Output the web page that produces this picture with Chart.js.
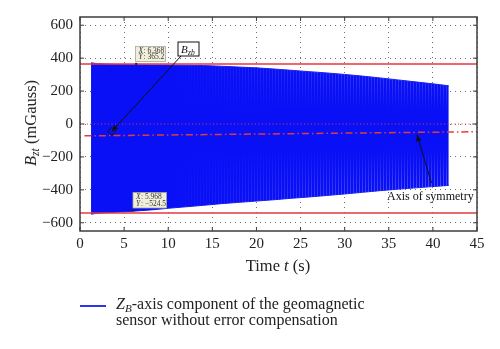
<!DOCTYPE html>
<html>
<head>
<meta charset="utf-8">
<script src="https://cdn.jsdelivr.net/npm/chart.js@4.4.0/dist/chart.umd.min.js"></script>
<style>
  body { margin: 0; background: #fff; }
  #wrap { position: relative; width: 500px; height: 349px; font-family: "Liberation Serif", "DejaVu Serif", serif; color: #222; }
  canvas { position: absolute; left: 0; top: 0; }
  #ytitle { position: absolute; left: 31px; top: 123px; transform: translate(-50%, -50%) rotate(-90deg); white-space: nowrap; font-size: 16.5px; }
  #xtitle { position: absolute; left: 278px; top: 256px; transform: translateX(-50%); white-space: nowrap; font-size: 16.5px; }
  #legend { position: absolute; left: 80px; top: 296px; font-size: 16px; line-height: 15.5px; }
  #legend .swatch { position: absolute; left: 0; top: 9px; width: 26px; height: 1.5px; background: #2a36e8; }
  #legend .ltext { position: absolute; left: 36px; top: 0; white-space: nowrap; }
  sub { font-size: 0.7em; line-height: 0; vertical-align: -0.3em; }
</style>
</head>
<body>
<div id="wrap">
  <canvas id="c" width="500" height="349"></canvas>
  <div id="ytitle"><i>B</i><sub><i>zt</i></sub> (mGauss)</div>
  <div id="xtitle">Time <i>t</i> (s)</div>
  <div id="legend"><span class="swatch"></span><div class="ltext"><i>Z</i><sub><i>B</i></sub>-axis component of the geomagnetic<br>sensor without error compensation</div></div>
</div>
<script>
/*---------------- dados ----------------*/

// tempo (s) dos pontos do envelope do sinal
const time = [1.25, 2, 4, 6, 8, 10, 12, 14, 16, 18, 20, 22, 24, 26, 28, 30, 32, 34, 36, 38, 40, 41.8];
// envelope superior e inferior (mGauss)
const upperEnv = [372, 366, 362, 360, 359, 358, 357, 355, 351, 346, 341, 334, 326, 318, 310, 301, 291, 280, 268, 256, 244, 232];
const lowerEnv = [-548, -542, -536, -530, -522, -512, -503, -494, -484, -476, -468, -460, -451, -443, -434, -425, -415, -405, -396, -388, -380, -373];

const maxLevel = 365.2;
const minLevel = -540;
const symmetryT = [0.5, 45];
const symmetryV = [-72, -47];

const xTicks = [0, 5, 10, 15, 20, 25, 30, 35, 40, 45];
const yTicks = [-600, -400, -200, 0, 200, 400, 600];

const tipTop = { t: 6.368, v: 365.2 };
const tipBottom = { t: 5.968, v: -524.5 };

/*---------------- textura do sinal (listras verticais claras) ----------------*/

function signalPattern() {
  const W = 500, H = 349;
  // camada de listras
  const sl = document.createElement('canvas');
  sl.width = W; sl.height = H;
  const s = sl.getContext('2d');
  s.fillStyle = 'rgb(150,160,255)';
  for (let px = 170; px < 460; px += 3) s.fillRect(px, 0, 1, H);
  s.globalCompositeOperation = 'destination-in';
  const gv = s.createLinearGradient(0, 0, 0, H);
  gv.addColorStop(0, 'rgba(0,0,0,1)');
  gv.addColorStop(60 / H, 'rgba(0,0,0,0.9)');
  gv.addColorStop(110 / H, 'rgba(0,0,0,0)');
  gv.addColorStop(150 / H, 'rgba(0,0,0,0)');
  gv.addColorStop(195 / H, 'rgba(0,0,0,0.9)');
  gv.addColorStop(1, 'rgba(0,0,0,1)');
  s.fillStyle = gv;
  s.fillRect(0, 0, W, H);
  const gh = s.createLinearGradient(170, 0, 450, 0);
  gh.addColorStop(0, 'rgba(0,0,0,0)');
  gh.addColorStop(1, 'rgba(0,0,0,0.65)');
  s.fillStyle = gh;
  s.fillRect(0, 0, W, H);

  const cv = document.createElement('canvas');
  cv.width = W; cv.height = H;
  const g = cv.getContext('2d');
  g.fillStyle = '#0a10f5';
  g.fillRect(0, 0, W, H);
  g.drawImage(sl, 0, 0);
  return g.createPattern(cv, 'no-repeat');
}

/*---------------- moldura, ticks internos e anotacoes ----------------*/

function line(ctx, x1, y1, x2, y2) {
  ctx.beginPath(); ctx.moveTo(x1, y1); ctx.lineTo(x2, y2); ctx.stroke();
}

function arrowHead(ctx, x1, y1, x2, y2, size) {
  const ang = Math.atan2(y2 - y1, x2 - x1);
  ctx.beginPath();
  ctx.moveTo(x2, y2);
  ctx.lineTo(x2 - size * Math.cos(ang - 0.4), y2 - size * Math.sin(ang - 0.4));
  ctx.lineTo(x2 - size * Math.cos(ang + 0.4), y2 - size * Math.sin(ang + 0.4));
  ctx.closePath();
  ctx.fill();
}

function dataTip(ctx, x0, y0, w, h, xs, ys) {
  ctx.fillStyle = '#f1efdc';
  ctx.strokeStyle = '#a8a898';
  ctx.lineWidth = 0.8;
  ctx.fillRect(x0, y0, w, h);
  ctx.strokeRect(x0, y0, w, h);
  ctx.fillStyle = '#333';
  ctx.textAlign = 'left';
  ctx.textBaseline = 'middle';
  ctx.font = 'italic 7.5px "Liberation Serif"';
  ctx.fillText('X', x0 + 3, y0 + h * 0.3);
  ctx.fillText('Y', x0 + 3, y0 + h * 0.72);
  ctx.font = '7.5px "Liberation Serif"';
  ctx.fillText(': ' + xs, x0 + 8, y0 + h * 0.3);
  ctx.fillText(': ' + ys, x0 + 8, y0 + h * 0.72);
}

const decor = {
  id: 'decor',
  afterDatasetsDraw(chart) {
    const { ctx, chartArea: a, scales: { x, y } } = chart;
    ctx.save();
    // moldura
    ctx.strokeStyle = '#3c3c3c';
    ctx.lineWidth = 1.5;
    ctx.strokeRect(a.left, a.top, a.right - a.left, a.bottom - a.top);
    ctx.lineWidth = 1;
    xTicks.forEach(v => {
      const px = x.getPixelForValue(v);
      line(ctx, px, a.bottom, px, a.bottom - 4);
      line(ctx, px, a.top, px, a.top + 4);
    });
    yTicks.forEach(v => {
      const py = y.getPixelForValue(v);
      line(ctx, a.left, py, a.left + 4, py);
      line(ctx, a.right, py, a.right - 4, py);
    });

    // marcadores dos data tips
    ctx.fillStyle = '#222';
    [tipTop, tipBottom].forEach(p => {
      ctx.fillRect(x.getPixelForValue(p.t) - 1, y.getPixelForValue(p.v) - 1, 2, 2);
    });
    dataTip(ctx, 135.5, 46.5, 30, 15, '6.368', '365.2');
    dataTip(ctx, 133, 192.5, 33.5, 15.5, '5.968', '\u2212524.5');

    // caixa B_zb e seta
    ctx.strokeStyle = '#111';
    ctx.fillStyle = '#111';
    ctx.lineWidth = 1;
    const tipX = x.getPixelForValue(3.6), tipY = y.getPixelForValue(-45);
    line(ctx, 181, 56, tipX, tipY);
    arrowHead(ctx, 181, 56, tipX, tipY, 7);
    ctx.beginPath();
    ctx.moveTo(tipX, tipY - 4); ctx.lineTo(tipX + 4, tipY); ctx.lineTo(tipX, tipY + 4); ctx.lineTo(tipX - 4, tipY); ctx.closePath();
    ctx.stroke();
    ctx.fillStyle = '#fff';
    ctx.fillRect(178, 42, 21, 14);
    ctx.strokeRect(178, 42, 21, 14);
    ctx.fillStyle = '#111';
    ctx.textBaseline = 'alphabetic';
    ctx.textAlign = 'left';
    ctx.font = 'italic 11px "Liberation Serif"';
    ctx.fillText('B', 181, 52.5);
    ctx.font = 'italic 7.5px "Liberation Serif"';
    ctx.fillText('zb', 188, 55);

    // eixo de simetria
    const sx = x.getPixelForValue(38.2), sy = y.getPixelForValue(-66);
    line(ctx, 431.5, 183, sx, sy);
    arrowHead(ctx, 431.5, 183, sx, sy, 7);
    ctx.font = '12px "Liberation Serif"';
    ctx.fillText('Axis of symmetry', 387, 200);
    ctx.restore();
  }
};

/*---------------- grafico ----------------*/

const pts = (xs, ys) => xs.map((t, i) => ({ x: t, y: ys[i] }));

new Chart(document.getElementById('c'), {
  type: 'line',
  data: {
    datasets: [
      { data: pts([0, 45], [maxLevel, maxLevel]), borderColor: '#e6393c', borderWidth: 1.5, pointRadius: 0, order: 0 },
      { data: pts([0, 45], [minLevel, minLevel]), borderColor: '#e6393c', borderWidth: 1.5, pointRadius: 0, order: 0 },
      { data: pts([0, 45], [0, 0]), borderColor: '#e6393c', borderWidth: 1, borderDash: [1, 2.5], pointRadius: 0, order: 0 },
      { data: pts(symmetryT, symmetryV), borderColor: '#e6393c', borderWidth: 1.5, borderDash: [7, 3, 1.5, 3], pointRadius: 0, order: 0 },
      { data: pts(time, upperEnv), borderColor: '#1a1ef2', backgroundColor: signalPattern(), borderWidth: 1, pointRadius: 0, fill: '+1', order: 1 },
      { data: pts(time, lowerEnv), borderColor: '#1a1ef2', borderWidth: 1, pointRadius: 0, fill: false, order: 1 }
    ]
  },
  options: {
    responsive: false,
    animation: false,
    layout: { padding: { top: 17, right: 23, bottom: 0, left: 0 } },
    plugins: { legend: { display: false }, tooltip: { enabled: false } },
    scales: {
      x: {
        type: 'linear', min: 0, max: 45,
        afterBuildTicks: s => { s.ticks = xTicks.map(v => ({ value: v })); },
        afterFit: s => { s.height = 118; },
        grid: { color: '#707070', lineWidth: 1, drawTicks: false },
        border: { display: false, dash: [1, 4] },
        ticks: { color: '#222', padding: 4, font: { family: 'Liberation Serif', size: 15 } }
      },
      y: {
        type: 'linear', min: -650, max: 650,
        afterBuildTicks: s => { s.ticks = yTicks.map(v => ({ value: v })); },
        afterFit: s => { s.width = 80; },
        grid: { color: '#707070', lineWidth: 1, drawTicks: false },
        border: { display: false, dash: [1, 4] },
        ticks: {
          color: '#222', padding: 7, font: { family: 'Liberation Serif', size: 15 },
          callback: v => v < 0 ? '\u2212' + Math.abs(v) : String(v)
        }
      }
    }
  },
  plugins: [decor]
});
</script>
</body>
</html>
